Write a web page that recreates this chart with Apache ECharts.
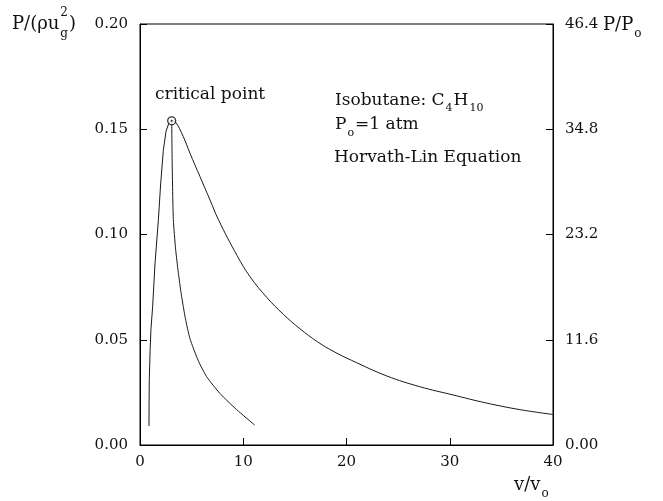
<!DOCTYPE html>
<html><head><meta charset="utf-8">
<script src="https://cdn.jsdelivr.net/npm/echarts@6/dist/echarts.min.js"></script>
<style>html,body{margin:0;padding:0;background:#fff}#c{width:663px;height:501px}</style>
</head><body><div id="c"></div>
<script>
// ---- data ----
const xTicks = [0, 10, 20, 30, 40];
const leftTicks = ['0.00', '0.05', '0.10', '0.15', '0.20'];
const rightTicks = ['0.00', '11.6', '23.2', '34.8', '46.4'];
// rising (liquid side) branch up to the critical point
const liquidBranch = [[0.87,0.009],[0.88,0.020],[0.90,0.031],[0.98,0.045],[1.06,0.055],[1.23,0.066],[1.45,0.086],[1.78,0.107],[2.00,0.124],[2.26,0.140],[2.52,0.149],[2.80,0.153],[3.07,0.154]];
// steep descending branch from the critical point
const steepBranch = [[3.07,0.154],[3.10,0.140],[3.15,0.124],[3.23,0.107],[3.45,0.093],[3.71,0.082],[4.00,0.0715],[4.40,0.060],[4.84,0.0505],[5.65,0.040],[6.45,0.0325],[7.74,0.0245],[9.36,0.0168],[11.10,0.0095]];
// vapour branch from the critical point to v/vo = 40
const vaporBranch = [[3.07,0.154],[3.39,0.1536],[4.19,0.1465],[4.84,0.1386],[5.81,0.1275],[6.78,0.1164],[7.60,0.107],[9.40,0.090],[10.65,0.080],[12.30,0.070],[13.90,0.062],[15.50,0.0552],[17.20,0.049],[18.80,0.0443],[20.50,0.0402],[23.90,0.0328],[27.10,0.0277],[30.30,0.0238],[33.50,0.0200],[36.80,0.0168],[40.00,0.0145]];
const criticalPoint = [[3.07, 0.154]];

const FONT = 'DejaVu Serif';
const INK = '#111';
const mctx = document.createElement('canvas').getContext('2d');
function textW(t, size) { mctx.font = size + 'px "' + FONT + '"'; return mctx.measureText(t).width; }
// lay out a run of text pieces (normal / sub / superscript) left to right
function run(x, y, parts) {
  let cx = x; const els = [];
  for (const [t, size, dy, adv] of parts) {
    els.push({type: 'text', x: cx, y: y + dy, z: 10,
      style: {text: t, fill: INK, fontFamily: FONT, fontSize: size, verticalAlign: 'middle', align: 'left'}});
    if (adv !== false) cx += textW(t, size) + 1;
  }
  return els;
}

const chart = echarts.init(document.getElementById('c'), null, {renderer: 'canvas'});
const lineStyle = {color: '#1a1a1a', width: 1};
const tickStyle = {color: '#000', width: 1};

chart.setOption({
  backgroundColor: '#fff',
  animation: false,
  grid: {left: 140, right: 110, top: 24, bottom: 56, show: true, borderColor: '#000', borderWidth: 1, backgroundColor: 'transparent'},
  xAxis: {
    type: 'value', min: xTicks[0], max: xTicks[xTicks.length - 1], interval: xTicks[1] - xTicks[0],
    axisLine: {show: true, lineStyle: tickStyle},
    axisTick: {show: true, inside: true, length: 7, lineStyle: tickStyle},
    splitLine: {show: false},
    axisLabel: {margin: 10, color: INK, fontFamily: FONT, fontSize: 15}
  },
  yAxis: [{
    type: 'value', min: 0, max: 0.2, interval: 0.05, position: 'left',
    axisLine: {show: true, lineStyle: tickStyle},
    axisTick: {show: true, inside: true, length: 7, lineStyle: tickStyle},
    splitLine: {show: false},
    axisLabel: {margin: 12, color: INK, fontFamily: FONT, fontSize: 15,
      formatter: v => leftTicks[Math.round(v / 0.05)]}
  }, {
    type: 'value', min: 0, max: 46.4, interval: 11.6, position: 'right',
    axisLine: {show: true, lineStyle: tickStyle},
    axisTick: {show: true, inside: true, length: 7, lineStyle: tickStyle},
    splitLine: {show: false},
    axisLabel: {margin: 12, color: INK, fontFamily: FONT, fontSize: 15,
      formatter: v => rightTicks[Math.round(v / 11.6)]}
  }],
  series: [
    {type: 'line', data: liquidBranch, showSymbol: false, symbol: 'none', lineStyle: lineStyle, smooth: false, z: 3},
    {type: 'line', data: steepBranch, showSymbol: false, symbol: 'none', lineStyle: lineStyle, smooth: 0.2, z: 3},
    {type: 'line', data: vaporBranch, showSymbol: false, symbol: 'none', lineStyle: lineStyle, smooth: 0.4, z: 3},
    {type: 'scatter', data: criticalPoint, symbol: 'circle', symbolSize: 8, z: 5,
      itemStyle: {color: '#fff', borderColor: '#000', borderWidth: 1.3}},
    {type: 'scatter', data: criticalPoint, symbol: 'circle', symbolSize: 2, z: 6,
      itemStyle: {color: '#000'}}
  ],
  graphic: [
    // left axis title P/(rho u_g^2)
    ...run(12, 24, [['P/(ρu', 18, 0], ['2', 12, -11, false], ['g', 12, 10], [')', 18, 0]]),
    // right axis title P/P_o
    ...run(603, 25, [['P/P', 18, 0], ['o', 12, 9]]),
    // x axis title v/v_o
    ...run(514, 485, [['v/v', 18, 0], ['o', 12, 9]]),
    // annotations
    ...run(155, 95, [['critical point', 17, 0]]),
    ...run(335, 101, [['Isobutane: C', 17, 0], ['4', 11, 7], ['H', 17, 0], ['10', 11, 7]]),
    ...run(335, 125, [['P', 17, 0], ['o', 11, 8], ['=1 atm', 17, 0]]),
    ...run(334, 158, [['Horvath-Lin Equation', 17, 0]])
  ]
});
</script>
</body></html>
